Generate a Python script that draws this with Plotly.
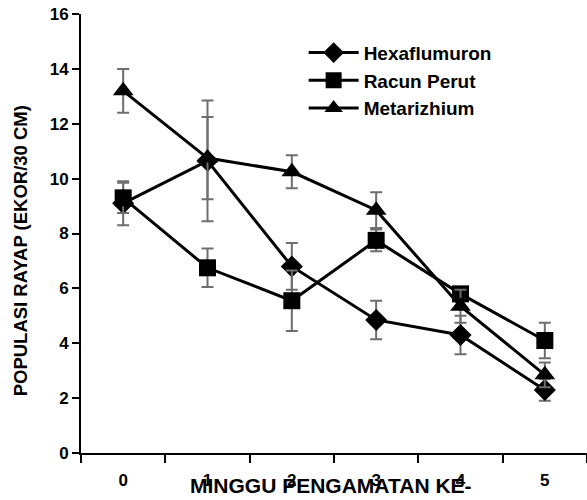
import plotly.graph_objects as go

weeks = ["0", "1", "2", "3", "4", "5"]
hexa = [9.1, 10.65, 6.8, 4.85, 4.3, 2.3]
hexa_err = [0.8, 2.2, 0.85, 0.7, 0.7, 0.4]
racun = [9.3, 6.75, 5.55, 7.75, 5.8, 4.1]
racun_err = [0.55, 0.7, 1.1, 0.4, 0.25, 0.65]
meta = [13.2, 10.75, 10.25, 8.85, 5.35, 2.85]
meta_err = [0.8, 1.5, 0.6, 0.65, 0.6, 0.45]

FONT = "Liberation Sans, Arial, sans-serif"
series = [
    ("Hexaflumuron", hexa, hexa_err, "diamond", 17),
    ("Racun Perut", racun, racun_err, "square", 17),
    ("Metarizhium", meta, meta_err, "triangle-up", 18),
]

fig = go.Figure()
for name, ys, es, sym, sz in series:
    fig.add_trace(go.Scatter(
        x=weeks, y=ys, name=name, mode="lines+markers",
        line=dict(color="black", width=3),
        marker=dict(symbol=sym, size=sz, color="black"),
        error_y=dict(type="data", array=es, visible=True, color="#6e6e6e",
                     thickness=2, width=6),
    ))

tickfont = dict(family=FONT, size=17, color="black", weight="bold")
fig.update_layout(
    width=587, height=500,
    margin=dict(l=81, r=0, t=14, b=47),
    plot_bgcolor="white", paper_bgcolor="white",
    font=dict(family=FONT, size=16, color="black"),
    showlegend=True,
    legend=dict(x=0.44, y=0.955, xanchor="left", yanchor="top",
                font=dict(family=FONT, size=19, color="black", weight="bold"),
                bgcolor="rgba(0,0,0,0)", tracegroupgap=0, itemwidth=50),
    xaxis=dict(type="category", range=[-0.5, 5.5], tickson="boundaries",
               showline=True, linecolor="black", linewidth=2,
               ticks="outside", ticklen=8, tickwidth=2, tickcolor="black",
               showgrid=False, zeroline=False, ticklabelstandoff=11,
               tickfont=tickfont),
    yaxis=dict(range=[0, 16], tickvals=[0, 2, 4, 6, 8, 10, 12, 14, 16],
               showline=True, linecolor="black", linewidth=2,
               ticks="outside", ticklen=7, tickwidth=2, tickcolor="black",
               showgrid=False, zeroline=False,
               tickfont=tickfont),
)

fig.add_annotation(text="MINGGU PENGAMATAN KE-", xref="paper", yref="paper",
                   x=0.495, y=-0.073, xanchor="center", yanchor="middle",
                   showarrow=False,
                   font=dict(family=FONT, size=21, color="black", weight="bold"))
fig.add_annotation(text="POPULASI RAYAP (EKOR/30 CM)", xref="paper", yref="paper",
                   x=-0.12, y=0.46, xanchor="center", yanchor="middle",
                   textangle=-90, showarrow=False,
                   font=dict(family=FONT, size=18.5, color="black", weight="bold"))

fig.write_html("out.html")
